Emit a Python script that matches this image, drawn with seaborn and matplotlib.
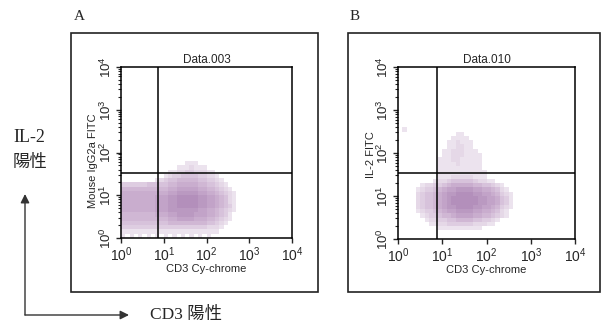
#!/usr/bin/env python
# coding: utf-8
#
import numpy as np
import pandas as pd
import seaborn as sb
import matplotlib
matplotlib.use("Agg")
from matplotlib import pyplot as plt
from matplotlib.colors import LinearSegmentedColormap
from matplotlib.patches import Rectangle
#
# Density of events, per 0.1-decade cell.
# Rows run from the top of the cloud down to 10^0, columns from 10^0 to the right.
dens_A = [
    "0000000000000001110000000000",  # log y 1.7-1.8
    "0000000000000111211100000000",
    "0000000000011223322211000000",
    "0000000000123344443322100000",
    "0000000012344555554433210000",
    "3333334444455666665544321000",
    "5555555555566777776655432100",
    "6666666666677888887766543210",
    "6666666677788999998877654210",
    "6666666677788999998877654210",
    "6666666677788999998877654310",
    "6666666677788888887766543210",
    "5555555566677888877766543100",
    "5555555555566777766655432100",
    "4444444444455555555544321000",
    "3333333333333333333322210000",
    "1111111111111111111111100000",
    "1010101010101010101010000000",  # log y 0.0-0.1
]
dens_B = [
    "0100000000000000000000000000",  # log y 2.5-2.6
    "0000000000000110000000000000",
    "0000000000001111000000000000",
    "0000000000011211100000000000",
    "0000000000011221100000000000",
    "0000000000112221110000000000",
    "0000000000112221111000000000",
    "0000000001112211111000000000",
    "0000000001111211111000000000",
    "0000000001111111111000000000",
    "0000000001111111111100000000",
    "0000000001112222211100000000",
    "0000000012234444432211000000",
    "0000012233456666655443210000",
    "0000123345677888877665421000",
    "0000234456788999988776532100",
    "0000234456789999998877643100",
    "0000234456789999998877643100",
    "0000234456788999988776532100",
    "0000123345677888877665421000",
    "0000012334556777766554321000",
    "0000001223344555544332100000",
    "0000000112233333322211000000",
    "0000000001111111111000000000",
    "0000000000000000000000000000",
    "0000000000000000000000000000",  # log y 0.0-0.1
]
titles = ["Data.003", "Data.010"]
panel_tags = ["A", "B"]
ylabels = ["Mouse IgG2a FITC", "IL-2 FITC"]
xlabel = "CD3 Cy-chrome"
gate_x = [7.3, 7.6]     # quadrant marker on CD3
gate_y = [33.0, 34.0]   # quadrant marker on FITC
tick_vals = [1, 10, 100, 1000, 10000]
tick_text = ["$10^0$", "$10^1$", "$10^2$", "$10^3$", "$10^4$"]
#
def grid_frame(rows):
    n = len(rows)
    recs = []
    for r, line in enumerate(rows):
        ly = (n - 1 - r) * 0.1 + 0.05
        for c, ch in enumerate(line):
            w = int(ch)
            if w > 0:
                recs.append((10 ** (c * 0.1 + 0.05), 10 ** ly, w))
    return pd.DataFrame(recs, columns=["cd3", "fitc", "w"])
#
sb.set_style("ticks")
plt.rcParams['font.family'] = ['Liberation Sans', 'DejaVu Sans']
plt.rcParams['mathtext.fontset'] = 'custom'
plt.rcParams['mathtext.rm'] = 'Liberation Sans'
plt.rcParams['mathtext.it'] = 'Liberation Sans'
#
W, H = 601, 329
fig = plt.figure(figsize=(W / 100, H / 100), dpi=100)
fig.patch.set_facecolor("white")
#
cmap = LinearSegmentedColormap.from_list("dots", ["#f0e8f1", "#d2bad6", "#b38fbb"])
#
# axes boxes in pixels: left, top, right, bottom
boxes = [(121, 67, 292, 238), (398, 67, 575, 239)]
frames = [(71, 33, 318, 292), (348, 33, 599.5, 292)]
tag_pos = [(74, 17), (350, 17)]
ylab_x = [93, 371]
ylab_y = [161, 155]
#
for i, rows in enumerate([dens_A, dens_B]):
    l, t, r, b = boxes[i]
    ax = fig.add_axes([l / W, (H - b) / H, (r - l) / W, (b - t) / H])
    df = grid_frame(rows)
    sb.histplot(data=df, x="cd3", y="fitc", weights="w", log_scale=(True, True),
                binwidth=0.1, binrange=((0, 2.8), (0, len(rows) * 0.1)),
                cmap=cmap, vmin=0.5, vmax=9, ax=ax)
    ax.set_xlim(1, 10000)
    ax.set_ylim(1, 10000)
    ax.axvline(gate_x[i], color="black", lw=1.1)
    ax.axhline(gate_y[i], color="black", lw=1.1)
    ax.set_xticks(tick_vals)
    ax.set_xticklabels(tick_text, fontsize=10)
    ax.set_yticks(tick_vals)
    ax.set_yticklabels(tick_text, fontsize=9.5, rotation=90, va="center")
    ax.tick_params(which="major", direction="out", length=3.5, width=1, pad=1.5)
    ax.tick_params(which="minor", direction="out", length=2.2, width=0.8)
    for s in ax.spines.values():
        s.set_visible(True)
        s.set_linewidth(1.1)
        s.set_color("black")
    ax.set_xlabel(xlabel, fontsize=8, labelpad=0)
    ax.set_ylabel("")
    fig.text(ylab_x[i] / W, (H - ylab_y[i]) / H, ylabels[i], fontsize=8,
             rotation=90, ha="center", va="center")
    ax.set_title(titles[i], fontsize=8.5, pad=3)
    fl, ft, fr, fb = frames[i]
    fig.add_artist(Rectangle((fl / W, (H - fb) / H), (fr - fl) / W, (fb - ft) / H,
                             transform=fig.transFigure, fill=False,
                             lw=1.2, ec="#222222"))
    fig.text(tag_pos[i][0] / W, (H - tag_pos[i][1]) / H, panel_tags[i],
             fontsize=11, family=['Liberation Serif'], ha="left", va="center")
#
# outer legend: arrows for the two positive directions
fig.text(13 / W, (H - 137) / H, "IL-2", fontsize=13,
         family=['Liberation Serif', 'Noto Sans CJK JP'], va="center")
fig.text(13 / W, (H - 162) / H, "陽性", fontsize=12.5,
         family=['Noto Sans CJK JP', 'DejaVu Sans'], va="center")
fig.text(150 / W, (H - 315) / H, "CD3 陽性", fontsize=12.5,
         family=['Liberation Serif', 'Noto Sans CJK JP'], va="center")
arrow = dict(arrowstyle="-|>", color="#333333", lw=1.0, mutation_scale=13,
             shrinkA=0, shrinkB=0)
fig.add_artist(plt.Annotation("", xy=(25 / W, (H - 194) / H), xytext=(25 / W, (H - 315) / H),
                              xycoords="figure fraction", arrowprops=arrow))
fig.add_artist(plt.Annotation("", xy=(129 / W, (H - 315) / H), xytext=(25 / W, (H - 315) / H),
                              xycoords="figure fraction", arrowprops=arrow))
#
plt.savefig("out.png", dpi=100)
